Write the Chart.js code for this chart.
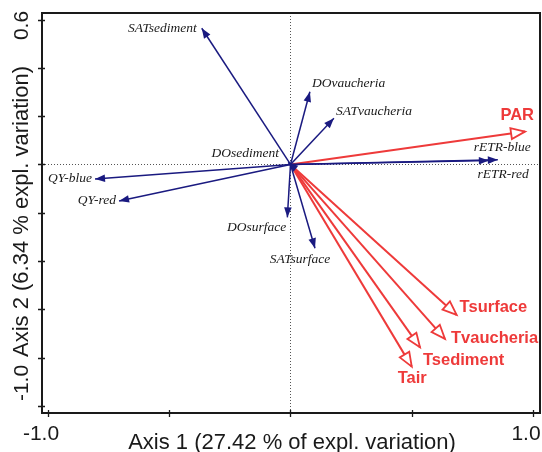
<!DOCTYPE html>
<html>
<head>
<meta charset="utf-8">
<script src="https://cdn.jsdelivr.net/npm/chart.js@4"></script>
<style>
  html, body { margin: 0; padding: 0; background: #ffffff; }
  #wrap { width: 542px; height: 452px; }
</style>
</head>
<body>
<div id="wrap"><canvas id="biplot" width="542" height="452"></canvas></div>
<script>
// response variables (blue) - arrow tips on axis 1 / axis 2
const blueNames = ['SATsediment', 'DOvaucheria', 'SATvaucheria', 'rETR-blue', 'rETR-red',
                   'DOsediment', 'QY-blue', 'QY-red', 'DOsurface', 'SATsurface'];
const blueX = [-0.366, 0.080, 0.179, 0.855, 0.818, -0.010, -0.806, -0.707, -0.013, 0.101];
const blueY = [0.564, 0.301, 0.191, 0.019, 0.016, 0.008, -0.060, -0.151, -0.219, -0.347];

// explanatory variables (red)
const redNames = ['PAR', 'Tsurface', 'Tvaucheria', 'Tsediment', 'Tair'];
const redX = [0.967, 0.685, 0.637, 0.534, 0.500];
const redY = [0.136, -0.623, -0.722, -0.757, -0.837];

// axes
const xTicks = [-1.0, -0.5, 0, 0.5, 1.0];
const yTicks = [0.6, 0.4, 0.2, 0, -0.2, -0.4, -0.6, -0.8, -1.0];
const xTickLabels = ['-1.0', '1.0'];
const xTickLabelValues = [-1.0, 1.0];
const yTickLabels = ['0.6', '-1.0'];
const yTickLabelValues = [0.6, -1.0];
const xTitle = 'Axis 1 (27.42 % of expl. variation)';
const yTitle = 'Axis 2 (6.34 % expl. variation)';

const BLUE = '#1a1a80';
const RED = '#ee3a3a';
const INK = '#1a1a1a';

// where each label sits relative to its arrow tip: [dx, dy, align]
const labelPlace = {
  'SATsediment': [-5, 0, 'right'],
  'DOvaucheria': [2, -8, 'left'],
  'SATvaucheria': [2, -7, 'left'],
  'rETR-blue': [33, -12, 'right'],
  'rETR-red': [40, 14, 'right'],
  'DOsediment': [-9, -9, 'right'],
  'QY-blue': [-3, 0, 'right'],
  'QY-red': [-3, 0, 'right'],
  'DOsurface': [-1, 10, 'right'],
  'SATsurface': [-15, 11, 'center'],
  'PAR': [9, -16, 'right'],
  'Tsurface': [3, -7, 'left'],
  'Tvaucheria': [6, 0, 'left'],
  'Tsediment': [3, 13, 'left'],
  'Tair': [-14, 12, 'left']
};

function vectorSets(names, xs, ys, color, width, kind) {
  return names.map((n, i) => ({
    label: n,
    kind: kind,
    data: [{ x: 0, y: 0 }, { x: xs[i], y: ys[i] }],
    showLine: true,
    borderColor: color,
    borderWidth: width,
    pointRadius: 0,
    fill: false
  }));
}

const decorations = {
  id: 'decorations',
  beforeDatasetsDraw(chart) {
    const ctx = chart.ctx;
    const a = chart.chartArea;
    const xs = chart.scales.x, ys = chart.scales.y;
    const x0 = xs.getPixelForValue(0), y0 = ys.getPixelForValue(0);
    ctx.save();
    // dotted zero lines
    ctx.strokeStyle = '#555';
    ctx.lineWidth = 1;
    ctx.setLineDash([1, 2]);
    ctx.beginPath();
    ctx.moveTo(a.left, Math.round(y0) + 0.5);
    ctx.lineTo(a.right, Math.round(y0) + 0.5);
    ctx.moveTo(Math.round(x0) + 0.5, a.top);
    ctx.lineTo(Math.round(x0) + 0.5, a.bottom);
    ctx.stroke();
    ctx.restore();
  },
  afterDatasetsDraw(chart) {
    const ctx = chart.ctx;
    const a = chart.chartArea;
    const xs = chart.scales.x, ys = chart.scales.y;
    ctx.save();

    // arrow heads
    chart.data.datasets.forEach((ds, i) => {
      const meta = chart.getDatasetMeta(i);
      const p0 = meta.data[0], p1 = meta.data[1];
      const ang = Math.atan2(p1.y - p0.y, p1.x - p0.x);
      const red = ds.kind === 'red';
      const len = red ? 14 : 10;
      const half = red ? 5.5 : 3.8;
      const bx = p1.x - len * Math.cos(ang), by = p1.y - len * Math.sin(ang);
      const nx = -Math.sin(ang) * half, ny = Math.cos(ang) * half;
      ctx.beginPath();
      ctx.moveTo(p1.x, p1.y);
      ctx.lineTo(bx + nx, by + ny);
      ctx.lineTo(bx - nx, by - ny);
      ctx.closePath();
      if (red) {
        ctx.fillStyle = '#ffffff';
        ctx.fill();
        ctx.strokeStyle = RED;
        ctx.lineWidth = 1.8;
        ctx.lineJoin = 'miter';
        ctx.stroke();
      } else {
        ctx.fillStyle = BLUE;
        ctx.fill();
      }
    });

    // arrow labels
    ctx.textBaseline = 'middle';
    chart.data.datasets.forEach((ds, i) => {
      const meta = chart.getDatasetMeta(i);
      const p1 = meta.data[1];
      const pl = labelPlace[ds.label];
      if (ds.kind === 'red') {
        ctx.font = 'bold 16.5px "Liberation Sans", Arial, sans-serif';
        ctx.fillStyle = RED;
      } else {
        ctx.font = 'italic 13.5px "Liberation Serif", "Times New Roman", serif';
        ctx.fillStyle = INK;
      }
      ctx.textAlign = pl[2];
      ctx.fillText(ds.label, p1.x + pl[0], p1.y + pl[1]);
    });

    // frame
    ctx.strokeStyle = INK;
    ctx.lineWidth = 2;
    ctx.strokeRect(a.left, a.top, a.right - a.left, a.bottom - a.top);

    // tick marks crossing the axes
    ctx.lineWidth = 1.3;
    ctx.beginPath();
    xTicks.forEach(v => {
      const px = Math.round(xs.getPixelForValue(v)) + 0.5;
      ctx.moveTo(px, a.bottom - 3);
      ctx.lineTo(px, a.bottom + 4);
    });
    yTicks.forEach(v => {
      const py = Math.round(ys.getPixelForValue(v)) + 0.5;
      ctx.moveTo(a.left - 4, py);
      ctx.lineTo(a.left + 3, py);
    });
    ctx.stroke();

    // tick labels
    ctx.fillStyle = INK;
    ctx.font = '21px "Liberation Sans", Arial, sans-serif';
    ctx.textAlign = 'center';
    ctx.textBaseline = 'alphabetic';
    xTickLabels.forEach((t, i) => {
      ctx.fillText(t, xs.getPixelForValue(xTickLabelValues[i]) - 7, a.bottom + 27);
    });
    const yShift = [6, -23];
    yTickLabels.forEach((t, i) => {
      ctx.save();
      ctx.translate(27.5, ys.getPixelForValue(yTickLabelValues[i]) + yShift[i]);
      ctx.rotate(-Math.PI / 2);
      ctx.fillText(t, 0, 0);
      ctx.restore();
    });

    // axis titles
    ctx.font = '22px "Liberation Sans", Arial, sans-serif';
    ctx.fillText(xTitle, (a.left + a.right) / 2 + 1, a.bottom + 36);
    ctx.save();
    ctx.translate(27.5, 211.5);
    ctx.rotate(-Math.PI / 2);
    ctx.fillText(yTitle, 0, 0);
    ctx.restore();

    ctx.restore();
  }
};

const chart = new Chart(document.getElementById('biplot'), {
  type: 'scatter',
  data: {
    datasets: vectorSets(blueNames, blueX, blueY, BLUE, 1.5, 'blue')
      .concat(vectorSets(redNames, redX, redY, RED, 2, 'red'))
  },
  options: {
    responsive: false,
    animation: false,
    layout: { padding: { top: 13, right: 2, left: 0, bottom: 0 } },
    scales: {
      x: {
        type: 'linear',
        min: -1.0247,
        max: 1.0289,
        grid: { display: false },
        border: { display: false },
        ticks: { display: false },
        afterFit(scale) { scale.height = 39; }
      },
      y: {
        type: 'linear',
        min: -1.029,
        max: 0.627,
        grid: { display: false },
        border: { display: false },
        ticks: { display: false },
        afterFit(scale) { scale.width = 42; }
      }
    },
    plugins: {
      legend: { display: false },
      tooltip: { enabled: false }
    }
  },
  plugins: [decorations]
});
</script>
</body>
</html>
